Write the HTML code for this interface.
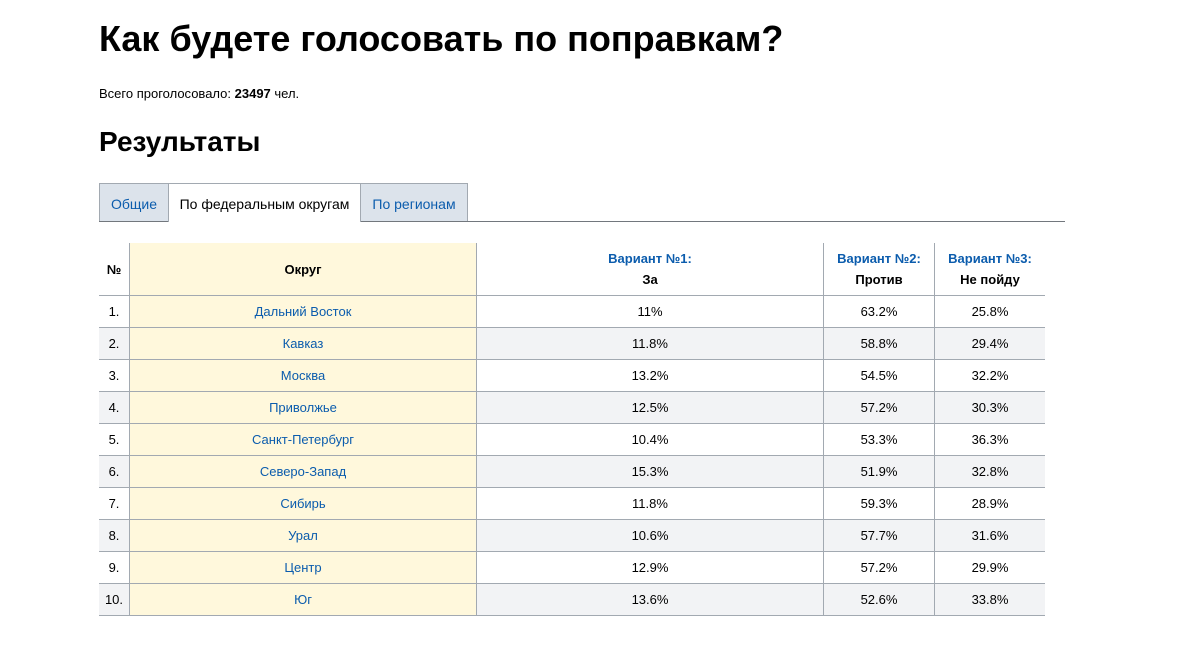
<!DOCTYPE html>
<html><head><meta charset="utf-8"><style>
body{margin:0;background:#fff;font-family:"Liberation Sans",Arial,sans-serif;color:#000;width:1200px;height:660px;overflow:hidden;position:relative}
.a{position:absolute}
h1{position:absolute;left:99px;top:18px;margin:0;font-size:36px;font-weight:bold}
h2{position:absolute;left:99px;top:126px;margin:0;font-size:28px;font-weight:bold}
.t{position:absolute;top:183px;height:38px;line-height:40px;font-size:14px;text-align:center;box-sizing:border-box;border:1px solid #a2a9b1;border-bottom:none;color:#0b5cad;background:#dce3eb}
.line{position:absolute;left:99px;top:221px;width:966px;height:1px;background:#72777d}
table{position:absolute;left:99px;top:243px;border-collapse:collapse;font-size:13px}
td,th{text-align:center;padding:0;border-bottom:1px solid #a2a9b1;height:31px}
th{height:52px;font-weight:bold;line-height:21px}
.b{color:#0b5cad}
.y{background:#fff8dc;border-left:1px solid #a2a9b1;border-right:1px solid #a2a9b1}
.r{border-right:1px solid #a2a9b1}
tr:nth-child(odd) td{background:#f2f3f5}
tr:nth-child(odd) td.y{background:#fff8dc}
tr:first-child th{background:#fff}
tr:first-child th.y{background:#fff8dc}
td.y{color:#0b5cad}
</style></head><body>
<h1>Как будете голосовать по поправкам?</h1>
<div class="a" style="left:99px;top:86px;font-size:13px">Всего проголосовало: <b>23497</b> чел.</div>
<h2>Результаты</h2>
<div class="t" style="left:99px;width:70px">Общие</div>
<div class="t" style="left:168px;width:193px;background:#fff;color:#000;height:39px;z-index:2">По федеральным округам</div>
<div class="t" style="left:360px;width:108px">По регионам</div>
<div class="line"></div>
<table>
<tr><th style="width:30px">№</th><th class="y" style="width:346px">Округ</th><th class="r" style="width:346px"><span class="b">Вариант №1:</span><br>За</th><th class="r" style="width:110px"><span class="b">Вариант №2:</span><br>Против</th><th style="width:110px"><span class="b">Вариант №3:</span><br>Не пойду</th></tr>
<tr><td>1.</td><td class="y">Дальний Восток</td><td class="r">11%</td><td class="r">63.2%</td><td>25.8%</td></tr>
<tr><td>2.</td><td class="y">Кавказ</td><td class="r">11.8%</td><td class="r">58.8%</td><td>29.4%</td></tr>
<tr><td>3.</td><td class="y">Москва</td><td class="r">13.2%</td><td class="r">54.5%</td><td>32.2%</td></tr>
<tr><td>4.</td><td class="y">Приволжье</td><td class="r">12.5%</td><td class="r">57.2%</td><td>30.3%</td></tr>
<tr><td>5.</td><td class="y">Санкт-Петербург</td><td class="r">10.4%</td><td class="r">53.3%</td><td>36.3%</td></tr>
<tr><td>6.</td><td class="y">Северо-Запад</td><td class="r">15.3%</td><td class="r">51.9%</td><td>32.8%</td></tr>
<tr><td>7.</td><td class="y">Сибирь</td><td class="r">11.8%</td><td class="r">59.3%</td><td>28.9%</td></tr>
<tr><td>8.</td><td class="y">Урал</td><td class="r">10.6%</td><td class="r">57.7%</td><td>31.6%</td></tr>
<tr><td>9.</td><td class="y">Центр</td><td class="r">12.9%</td><td class="r">57.2%</td><td>29.9%</td></tr>
<tr><td>10.</td><td class="y">Юг</td><td class="r">13.6%</td><td class="r">52.6%</td><td>33.8%</td></tr>
</table>
</body></html>
